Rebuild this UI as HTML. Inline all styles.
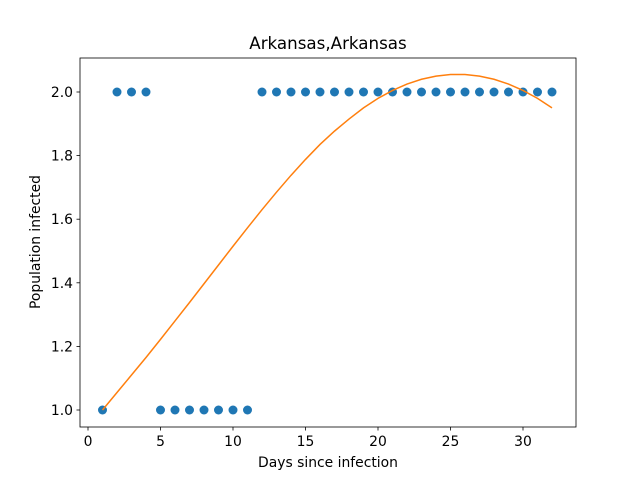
<!DOCTYPE html>
<html><head><meta charset="utf-8"><style>
body{margin:0;background:#fff}
svg{display:block;font-family:"DejaVu Sans","Liberation Sans",sans-serif}
</style></head><body>
<svg id="chart" width="640" height="480">
<text x="328" y="49" font-size="16.7" text-anchor="middle">Arkansas,Arkansas</text>
<text x="328" y="467" font-size="13.9" text-anchor="middle">Days since infection</text>
<text transform="translate(40,242) rotate(-90)" font-size="13.9" text-anchor="middle">Population infected</text>
<g id="ticks"></g><g id="marks"></g>
<rect x="80" y="58" width="496" height="369" fill="none" stroke="#000" stroke-width="0.8"/>
</svg>
<script>
const days=[1,2,3,4,5,6,7,8,9,10,11,12,13,14,15,16,17,18,19,20,21,22,23,24,25,26,27,28,29,30,31,32];
const observed=[1,2,2,2,1,1,1,1,1,1,1,2,2,2,2,2,2,2,2,2,2,2,2,2,2,2,2,2,2,2,2,2];
const fitted=[1.00,1.055,1.11,1.165,1.222,1.28,1.338,1.397,1.456,1.515,1.573,1.63,1.685,1.738,1.788,1.835,1.877,1.915,1.95,1.98,2.005,2.025,2.04,2.05,2.055,2.055,2.05,2.04,2.025,2.005,1.98,1.95];
const xTicks=[0,5,10,15,20,25,30];
const yTicks=[1.0,1.2,1.4,1.6,1.8,2.0];
const X=v=>88+v*14.5, Y=v=>410-(v-1)*318;
const NS="http://www.w3.org/2000/svg";
const tg=document.getElementById('ticks'), mg=document.getElementById('marks');
function mk(tag,attrs,parent){const e=document.createElementNS(NS,tag);for(const k in attrs)e.setAttribute(k,attrs[k]);parent.appendChild(e);return e;}
xTicks.forEach(t=>{
 const l=mk('line',{x1:X(t),x2:X(t),y1:427,y2:430.5,stroke:'#000','stroke-width':0.8},tg);
 
 
 const s=mk('text',{x:X(t),y:446,'font-size':13.9,'text-anchor':'middle'},tg);s.textContent=t;
 
 
});
yTicks.forEach(t=>{
 const l=mk('line',{x1:76.5,x2:80,y1:Y(t),y2:Y(t),stroke:'#000','stroke-width':0.8},tg);
 
 
 const s=mk('text',{x:73,y:Y(t)+5,'font-size':13.9,'text-anchor':'end'},tg);s.textContent=t.toFixed(1);
 
 
});
days.forEach((d,i)=>{
 const c=mk('circle',{cx:X(d),cy:Y(observed[i]),r:4.5,fill:'#1f77b4'},mg);
 
 
});
const p=mk('polyline',{points:days.map((d,i)=>X(d)+','+Y(fitted[i])).join(' '),fill:'none',stroke:'#ff7f0e','stroke-width':1.5},mg);


</script>
</body></html>
